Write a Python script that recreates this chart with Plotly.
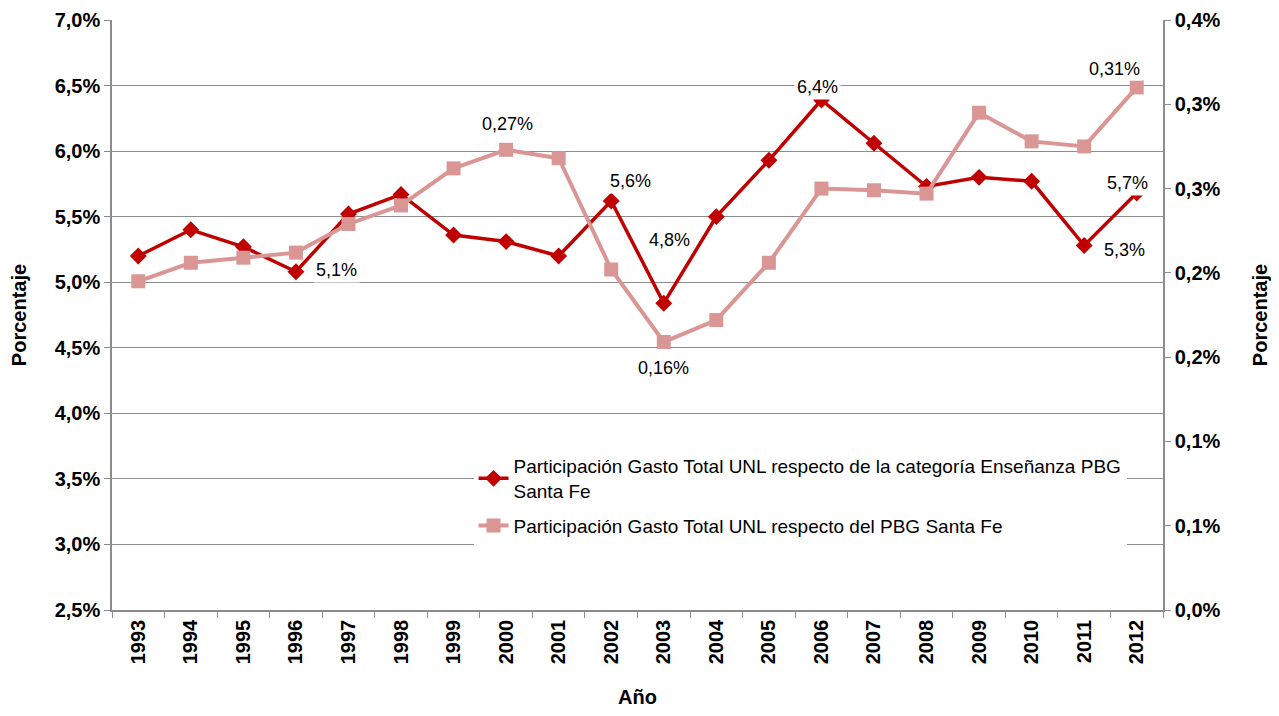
import plotly.graph_objects as go

# datos
anios = [str(a) for a in range(1993, 2013)]
part_ensenanza = [5.20, 5.40, 5.27, 5.08, 5.52, 5.67, 5.36, 5.31, 5.20, 5.62,
                  4.84, 5.50, 5.93, 6.39, 6.06, 5.73, 5.80, 5.77, 5.28, 5.68]
part_pbg = [0.195, 0.206, 0.209, 0.212, 0.229, 0.240, 0.262, 0.273, 0.268, 0.202,
            0.159, 0.172, 0.206, 0.250, 0.249, 0.247, 0.295, 0.278, 0.275, 0.310]

nombre_ensenanza = "Participación Gasto Total UNL respecto de la categoría Enseñanza PBG<br>Santa Fe"
nombre_pbg = "Participación Gasto Total UNL respecto del PBG Santa Fe"

y2_vals = [0.0, 0.05, 0.10, 0.15, 0.20, 0.25, 0.30, 0.35]
y2_text = ["0,0%", "0,1%", "0,1%", "0,2%", "0,2%", "0,3%", "0,3%", "0,4%"]

# etiquetas de datos: anio -> desplazamiento (px)
etiq_ensenanza = {"1996": (41, 2), "2002": (19, 20), "2003": (6, 63),
                  "2006": (-4, 13), "2011": (40, -4), "2012": (-9, 10)}
etiq_pbg = {"2000": (1, 26), "2003": (0, -26), "2012": (-22, 18)}

ROJO = "#C00000"
ROSA = "#D99694"
GRIS = "#8c8c8c"
FUENTE = "Liberation Sans, Arial, sans-serif"

fig = go.Figure()
fig.add_trace(go.Scatter(x=anios, y=part_ensenanza, name=nombre_ensenanza,
                         mode="lines+markers", yaxis="y", legendgroup="a",
                         line=dict(color=ROJO, width=3.5),
                         marker=dict(symbol="diamond", size=13, color=ROJO)))
fig.add_trace(go.Scatter(x=anios, y=part_pbg, name=nombre_pbg,
                         mode="lines+markers", yaxis="y2", legendgroup="b",
                         line=dict(color=ROSA, width=4),
                         marker=dict(symbol="square", size=14, color=ROSA)))

anotaciones = []
for a, (dx, dy) in etiq_ensenanza.items():
    i = anios.index(a)
    v = part_ensenanza[i]
    anotaciones.append(dict(x=i, y=v, xref="x", yref="y", xshift=dx, yshift=dy,
                            text=f"{v:.1f}%".replace(".", ","), showarrow=False,
                            bgcolor="white", borderpad=2,
                            font=dict(size=18, color="black", family=FUENTE)))
for a, (dx, dy) in etiq_pbg.items():
    i = anios.index(a)
    v = part_pbg[i]
    anotaciones.append(dict(x=i, y=v, xref="x", yref="y2", xshift=dx, yshift=dy,
                            text=f"{v:.2f}%".replace(".", ","), showarrow=False,
                            bgcolor="white", borderpad=1,
                            font=dict(size=18, color="black", family=FUENTE)))

# la pagina tiene 8px de margen en el body: figura de 1263x700
fig.update_layout(
    width=1263, height=700,
    margin=dict(l=104, r=108, t=12, b=98),
    paper_bgcolor="white", plot_bgcolor="white",
    separators=",.",
    font=dict(family=FUENTE, color="black"),
    annotations=anotaciones,
    xaxis=dict(type="category", range=[-0.5, len(anios) - 0.5], tickangle=-90, showgrid=False,
               showline=True, linecolor=GRIS, linewidth=1.5, automargin=False,
               ticks="outside", tickson="boundaries", ticklen=6, tickcolor=GRIS,
               tickfont=dict(size=20, weight="bold"),
               title=dict(text="<b>Año</b>", font=dict(size=20), standoff=39)),
    yaxis=dict(range=[2.5, 7.0], dtick=0.5, tick0=2.5, tickformat=".1f", ticksuffix="%",
               showgrid=True, gridcolor=GRIS, gridwidth=1.3, automargin=False,
               showline=True, linecolor=GRIS, linewidth=1.5,
               ticks="outside", ticklen=6, tickcolor=GRIS,
               tickfont=dict(size=20, weight="bold"), zeroline=False,
               title=dict(text="<b>Porcentaje</b>", font=dict(size=20), standoff=24)),
    yaxis2=dict(range=[0, 0.35], overlaying="y", side="right", automargin=False,
                tickvals=y2_vals, ticktext=y2_text, showgrid=False, zeroline=False,
                showline=True, linecolor=GRIS, linewidth=1.5,
                ticks="outside", ticklen=6, tickcolor=GRIS,
                tickfont=dict(size=20, weight="bold"),
                title=dict(text="<b>Porcentaje</b>", font=dict(size=20), standoff=34)),
    legend=dict(x=0.344, y=0.276, xanchor="left", yanchor="top",
                bgcolor="white", font=dict(size=19),
                traceorder="grouped", tracegroupgap=7),
)

fig.write_html("out.html")
